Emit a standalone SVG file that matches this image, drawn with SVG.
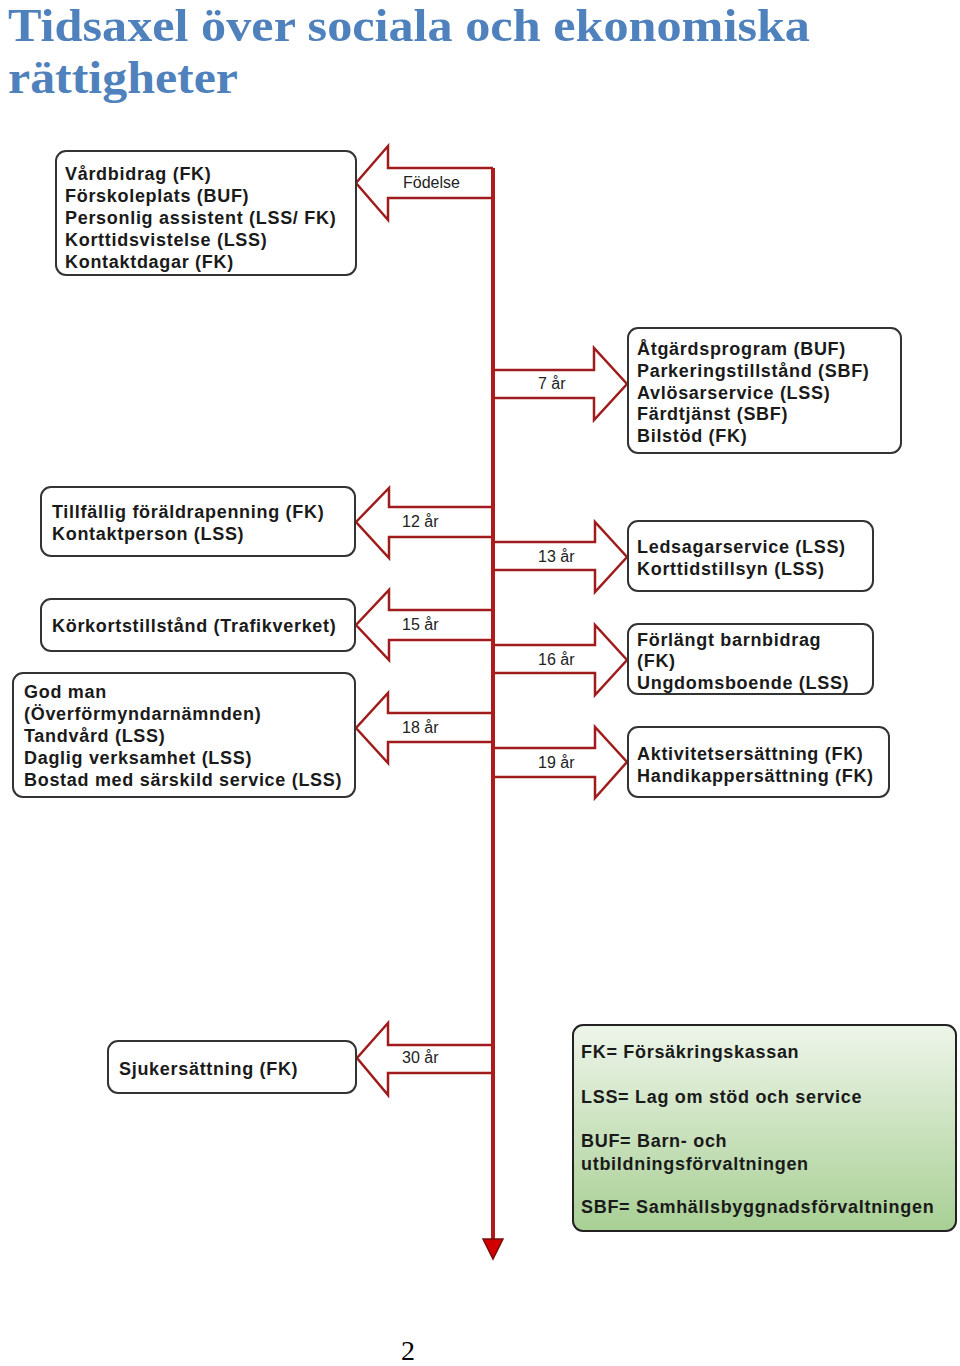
<svg xmlns="http://www.w3.org/2000/svg" width="960" height="1366" viewBox="0 0 960 1366">
<defs>
<linearGradient id="legGrad" x1="0" y1="0" x2="0" y2="1">
<stop offset="0" stop-color="#eef5ea"/>
<stop offset="1" stop-color="#a8cf94"/>
</linearGradient>
<style>
.title{font-family:"Liberation Serif","DejaVu Serif",serif;font-weight:bold;font-size:46px;fill:#4f81bd}
.box{fill:#fff;stroke:#333;stroke-width:2}
.leg{fill:url(#legGrad);stroke:#222;stroke-width:2}
.t{font-family:"Liberation Sans",Arial,sans-serif;font-weight:bold;font-size:18px;letter-spacing:0.7px;fill:#1a1a1a}
.lbl{font-family:"Liberation Sans",Arial,sans-serif;font-size:16px;fill:#222}
.arr{fill:#fff;stroke:#a01c1c;stroke-width:2.5;stroke-linejoin:miter}
.axis{stroke:#b01a1a;stroke-width:4;fill:none}
.head{fill:#d00000;stroke:#7a0c0c;stroke-width:1.5}
.pg{font-family:"Liberation Serif","DejaVu Serif",serif;font-size:28px;fill:#000}
</style>
</defs>
<rect width="960" height="1366" fill="#fff"/>
<text class="title" x="8" y="41" textLength="802" lengthAdjust="spacingAndGlyphs">Tidsaxel över sociala och ekonomiska</text>
<text class="title" x="8" y="93" textLength="230" lengthAdjust="spacingAndGlyphs">rättigheter</text>

<g id="connectors">
<path class="arr" d="M493,168 L388,168 L388,146 L356,183 L388,220 L388,198 L493,198"/>
<path class="arr" d="M493,370 L594,370 L594,348 L627,384 L594,420 L594,398 L493,398"/>
<path class="arr" d="M493,507 L389,507 L389,488 L356,522 L389,558 L389,537 L493,537"/>
<path class="arr" d="M493,542 L595,542 L595,522 L627,557 L595,592 L595,570 L493,570"/>
<path class="arr" d="M493,610 L389,610 L389,590 L356,625 L389,660 L389,640 L493,640"/>
<path class="arr" d="M493,645 L595,645 L595,625 L627,660 L595,695 L595,673 L493,673"/>
<path class="arr" d="M493,713 L388,713 L388,693 L356,728 L388,763 L388,742 L493,742"/>
<path class="arr" d="M493,748 L595,748 L595,727 L627,762 L595,798 L595,777 L493,777"/>
<path class="arr" d="M493,1045 L388,1045 L388,1023 L357,1058 L388,1095 L388,1073 L493,1073"/>
<line class="axis" x1="493" y1="168" x2="493" y2="1240"/>
<path class="head" d="M483,1239 L503,1239 L493,1259 Z"/>
<text class="lbl" x="403" y="188">Födelse</text>
<text class="lbl" x="538" y="389">7 år</text>
<text class="lbl" x="402" y="527">12 år</text>
<text class="lbl" x="538" y="562">13 år</text>
<text class="lbl" x="402" y="630">15 år</text>
<text class="lbl" x="538" y="665">16 år</text>
<text class="lbl" x="402" y="733">18 år</text>
<text class="lbl" x="538" y="768">19 år</text>
<text class="lbl" x="402" y="1063">30 år</text>
</g>

<g id="node-fodelse">
<rect class="box" x="56" y="151" width="300" height="124" rx="10"/>
<text class="t" x="65" y="180">Vårdbidrag (FK)</text>
<text class="t" x="65" y="202">Förskoleplats (BUF)</text>
<text class="t" x="65" y="224">Personlig assistent (LSS/ FK)</text>
<text class="t" x="65" y="246">Korttidsvistelse (LSS)</text>
<text class="t" x="65" y="268">Kontaktdagar (FK)</text>
</g>

<g id="node-7ar">
<rect class="box" x="628" y="328" width="273" height="125" rx="10"/>
<text class="t" x="637" y="355">Åtgärdsprogram (BUF)</text>
<text class="t" x="637" y="377">Parkeringstillstånd (SBF)</text>
<text class="t" x="637" y="399">Avlösarservice (LSS)</text>
<text class="t" x="637" y="420">Färdtjänst (SBF)</text>
<text class="t" x="637" y="442">Bilstöd (FK)</text>
</g>

<g id="node-12ar">
<rect class="box" x="41" y="487" width="314" height="69" rx="10"/>
<text class="t" x="52" y="518">Tillfällig föräldrapenning (FK)</text>
<text class="t" x="52" y="540">Kontaktperson (LSS)</text>
</g>

<g id="node-13ar">
<rect class="box" x="628" y="521" width="245" height="70" rx="10"/>
<text class="t" x="637" y="553">Ledsagarservice (LSS)</text>
<text class="t" x="637" y="575">Korttidstillsyn (LSS)</text>
</g>

<g id="node-15ar">
<rect class="box" x="41" y="599" width="314" height="52" rx="10"/>
<text class="t" x="52" y="632">Körkortstillstånd (Trafikverket)</text>
</g>

<g id="node-16ar">
<rect class="box" x="628" y="624" width="245" height="70" rx="10"/>
<text class="t" x="637" y="646">Förlängt barnbidrag</text>
<text class="t" x="637" y="667">(FK)</text>
<text class="t" x="637" y="689">Ungdomsboende (LSS)</text>
</g>

<g id="node-18ar">
<rect class="box" x="13" y="673" width="342" height="124" rx="10"/>
<text class="t" x="24" y="698">God man</text>
<text class="t" x="24" y="720">(Överförmyndarnämnden)</text>
<text class="t" x="24" y="742">Tandvård (LSS)</text>
<text class="t" x="24" y="764">Daglig verksamhet (LSS)</text>
<text class="t" x="24" y="786">Bostad med särskild service (LSS)</text>
</g>

<g id="node-19ar">
<rect class="box" x="628" y="727" width="261" height="70" rx="10"/>
<text class="t" x="637" y="760">Aktivitetsersättning (FK)</text>
<text class="t" x="637" y="782">Handikappersättning (FK)</text>
</g>

<g id="node-30ar">
<rect class="box" x="108" y="1041" width="248" height="52" rx="10"/>
<text class="t" x="119" y="1075">Sjukersättning (FK)</text>
</g>

<g id="node-legend">
<rect class="leg" x="573" y="1025" width="383" height="206" rx="10"/>
<text class="t" x="581" y="1058">FK= Försäkringskassan</text>
<text class="t" x="581" y="1103">LSS= Lag om stöd och service</text>
<text class="t" x="581" y="1147">BUF= Barn- och</text>
<text class="t" x="581" y="1170">utbildningsförvaltningen</text>
<text class="t" x="581" y="1213">SBF= Samhällsbyggnadsförvaltningen</text>
</g>

<text class="pg" x="401" y="1360">2</text>
</svg>
